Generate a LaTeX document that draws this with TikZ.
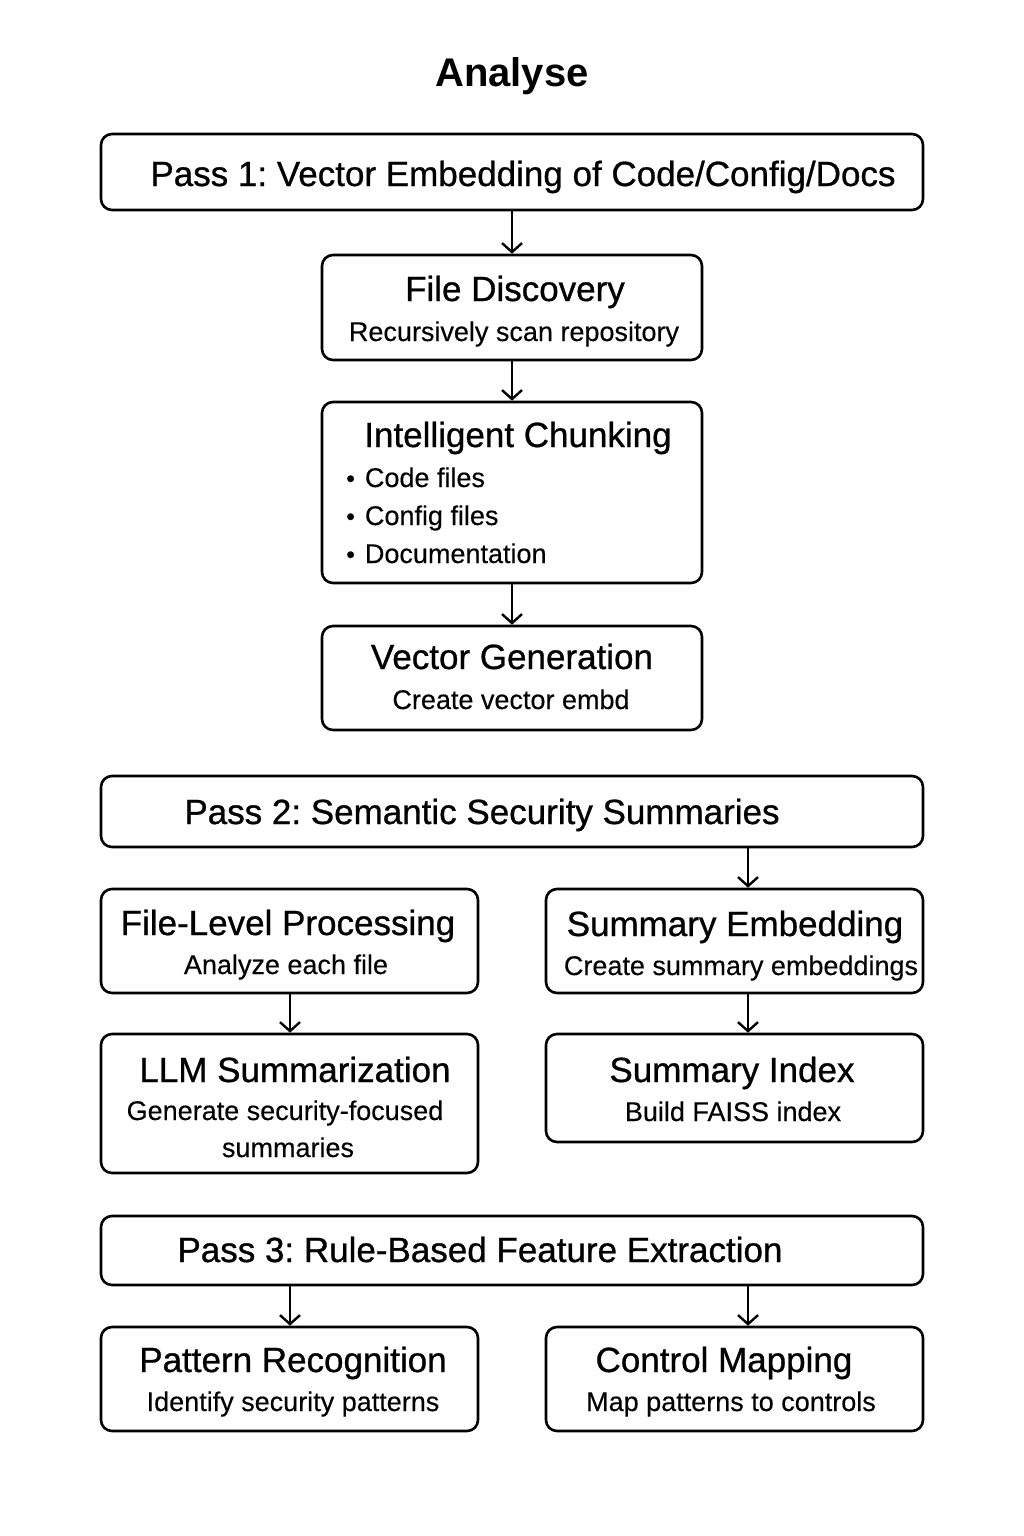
\documentclass[tikz,border=0pt]{standalone}
\usepackage{fontspec}
\setmainfont{Liberation Sans}
\newfontfamily\medfont[FakeBold=0.8]{Liberation Sans}
\newfontfamily\subfont[FakeBold=0.3]{Liberation Sans}
\usetikzlibrary{arrows.meta}
\frenchspacing
\begin{document}
\begin{tikzpicture}[x=1pt,y=-1pt,
  box/.style={draw, line width=2.6pt, rounded corners=11pt, inner sep=0pt},
  arr/.style={line width=2.4pt, -{Straight Barb[length=9pt,width=20pt,line width=2.4pt]}},
  hd/.style={font=\medfont\fontsize{35}{40}\selectfont, inner sep=0pt, anchor=base},
  sb/.style={font=\subfont\fontsize{27}{32}\selectfont, inner sep=0pt, anchor=base},
  bl/.style={font=\subfont\fontsize{27}{32}\selectfont, inner sep=0pt, anchor=base west}]
\fill[white] (0,0) rectangle (1024,1536);
\useasboundingbox (0,0) rectangle (1024,1536);

\node[font=\bfseries\fontsize{40}{46}\selectfont, inner sep=0pt, anchor=base] (title) at (512,87) {Analyse};

% boxes
\node[box, minimum width=822pt, minimum height=76pt] (p1) at (512,172) {};
\node[box, minimum width=380pt, minimum height=105pt] (fd) at (512,307.5) {};
\node[box, minimum width=380pt, minimum height=181pt] (ic) at (512,492.5) {};
\node[box, minimum width=380pt, minimum height=104pt] (vg) at (512,678) {};
\node[box, minimum width=822pt, minimum height=71pt] (p2) at (512,811.5) {};
\node[box, minimum width=377pt, minimum height=104pt] (fl) at (289.5,941) {};
\node[box, minimum width=377pt, minimum height=104pt] (se) at (734.5,941) {};
\node[box, minimum width=377pt, minimum height=139pt] (llm) at (289.5,1103.5) {};
\node[box, minimum width=377pt, minimum height=108pt] (si) at (734.5,1088) {};
\node[box, minimum width=822pt, minimum height=69pt] (p3) at (512,1250.5) {};
\node[box, minimum width=377pt, minimum height=104pt] (pr) at (289.5,1379) {};
\node[box, minimum width=377pt, minimum height=104pt] (cm) at (734.5,1379) {};

% texts
\node[hd] (t1) at (523,186) {Pass 1: Vector Embedding of Code/Config/Docs};
\node[hd] (tfd) at (515,301) {File Discovery};
\node[sb] (sfd) at (514,341) {Recursively scan repository};
\node[hd] (tic) at (518,447) {Intelligent Chunking};
\node[bl] (b1) at (346,487) {{\fontsize{25}{25}\selectfont\textbullet}\hspace{10pt}Code files};
\node[bl] (b2) at (346,525) {{\fontsize{25}{25}\selectfont\textbullet}\hspace{10pt}Config files};
\node[bl] (b3) at (346,563) {{\fontsize{25}{25}\selectfont\textbullet}\hspace{10pt}Documentation};
\node[hd] (tvg) at (512,669) {Vector Generation};
\node[sb] (svg) at (511,709) {Create vector embd};
\node[hd] (t2) at (482,824) {Pass 2: Semantic Security Summaries};
\node[hd] (tfl) at (288,935) {File-Level Processing};
\node[sb] (sfl) at (286,974) {Analyze each file};
\node[hd] (tse) at (735,936) {Summary Embedding};
\node[sb] (sse) at (741,975) {Create summary embeddings};
\node[hd] (tllm) at (295,1082) {LLM Summarization};
\node[sb] (sllm1) at (285,1120) {Generate security-focused};
\node[sb] (sllm2) at (288,1157) {summaries};
\node[hd] (tsi) at (732,1082) {Summary Index};
\node[sb] (ssi) at (733,1121) {Build FAISS index};
\node[hd] (t3) at (480,1262) {Pass 3: Rule-Based Feature Extraction};
\node[hd] (tpr) at (293,1372) {Pattern Recognition};
\node[sb] (spr) at (293,1411) {Identify security patterns};
\node[hd] (tcm) at (724,1372) {Control Mapping};
\node[sb] (scm) at (731,1411) {Map patterns to controls};

% arrows
\draw[arr] (p1.south) -- (fd.north);
\draw[arr] (fd.south) -- (ic.north);
\draw[arr] (ic.south) -- (vg.north);
\draw[arr] (p2.south -| 748,0) -- (se.north -| 748,0);
\draw[arr] (se.south -| 748,0) -- (si.north -| 748,0);
\draw[arr] (fl.south -| 290,0) -- (llm.north -| 290,0);
\draw[arr] (p3.south -| 290,0) -- (pr.north -| 290,0);
\draw[arr] (p3.south -| 748,0) -- (cm.north -| 748,0);
\end{tikzpicture}
\end{document}
